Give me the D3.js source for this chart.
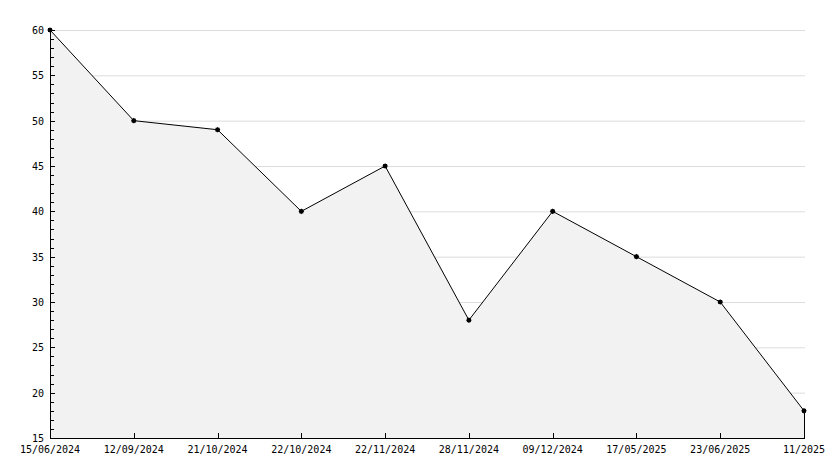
<!DOCTYPE html>
<html><head><meta charset="utf-8">
<script src="https://cdn.jsdelivr.net/npm/d3@7"></script>
<style>body{margin:0;background:#fff}text{font-family:"DejaVu Sans Mono",monospace;font-size:10px}</style>
</head><body><svg id="c" width="834" height="468"></svg>
<script>
const categories=["15/06/2024","12/09/2024","21/10/2024","22/10/2024","22/11/2024","28/11/2024","09/12/2024","17/05/2025","23/06/2025","11/2025"];
const values=[60,50,49,40,45,28,40,35,30,18];
const yTicks=[15,20,25,30,35,40,45,50,55,60];
const svg=d3.select("#c");
const L=50,R=804,T=30,B=438;
const x=d3.scalePoint().domain(categories).range([L,R]);
const y=d3.scaleLinear().domain([15,60]).range([B,T]);
svg.append("g").selectAll("line").data(yTicks.slice(1)).join("line")
 .attr("x1",L).attr("x2",R+1).attr("y1",d=>y(d)+0.5).attr("y2",d=>y(d)+0.5).attr("stroke","#dcdcdc");
const area=d3.area().x((d,i)=>x(categories[i])).y0(B).y1(d=>y(d));
svg.append("path").datum(values).attr("d",area).attr("fill","#f2f2f2");
svg.append("line").attr("x1",R+0.5).attr("x2",R+0.5).attr("y1",y(values[values.length-1])).attr("y2",B).attr("stroke","#000");
const line=d3.line().x((d,i)=>x(categories[i])).y(d=>y(d));
svg.append("path").datum(values).attr("d",line).attr("fill","none").attr("stroke","#000");
// axes
const minor=d3.range(15,61,1);
svg.append("g").selectAll("line").data(minor).join("line")
 .attr("x1",L).attr("x2",d=>d%5===0?L+5:L+4).attr("y1",d=>Math.round(y(d))+0.5).attr("y2",d=>Math.round(y(d))+0.5).attr("stroke","#000");
svg.append("g").selectAll("text").data(yTicks).join("text")
 .attr("x",L-6).attr("y",d=>y(d)+4).attr("text-anchor","end").text(d=>d);
svg.append("line").attr("x1",L+0.5).attr("x2",L+0.5).attr("y1",T).attr("y2",B).attr("stroke","#000");
svg.append("line").attr("x1",L).attr("x2",R+1).attr("y1",B+0.5).attr("y2",B+0.5).attr("stroke","#000");
svg.append("g").selectAll("line").data(categories).join("line")
 .attr("x1",d=>Math.round(x(d))+0.5).attr("x2",d=>Math.round(x(d))+0.5).attr("y1",B).attr("y2",B-5).attr("stroke","#000");
svg.append("g").selectAll("text").data(categories).join("text")
 .attr("x",d=>x(d)).attr("y",B+15).attr("text-anchor","middle").text(d=>d);
const sym=d3.symbol().type(d3.symbolSquare).size(16);
const g=svg.append("g");
values.forEach((v,i)=>{
 const px=x(categories[i]),py=y(v);
 g.append("path").attr("d",sym()).attr("transform",`translate(${px},${py}) rotate(45)`).attr("fill","#000");
 g.append("path").attr("d",sym()).attr("transform",`translate(${px},${py})`).attr("fill","#000");
});
</script></body></html>
